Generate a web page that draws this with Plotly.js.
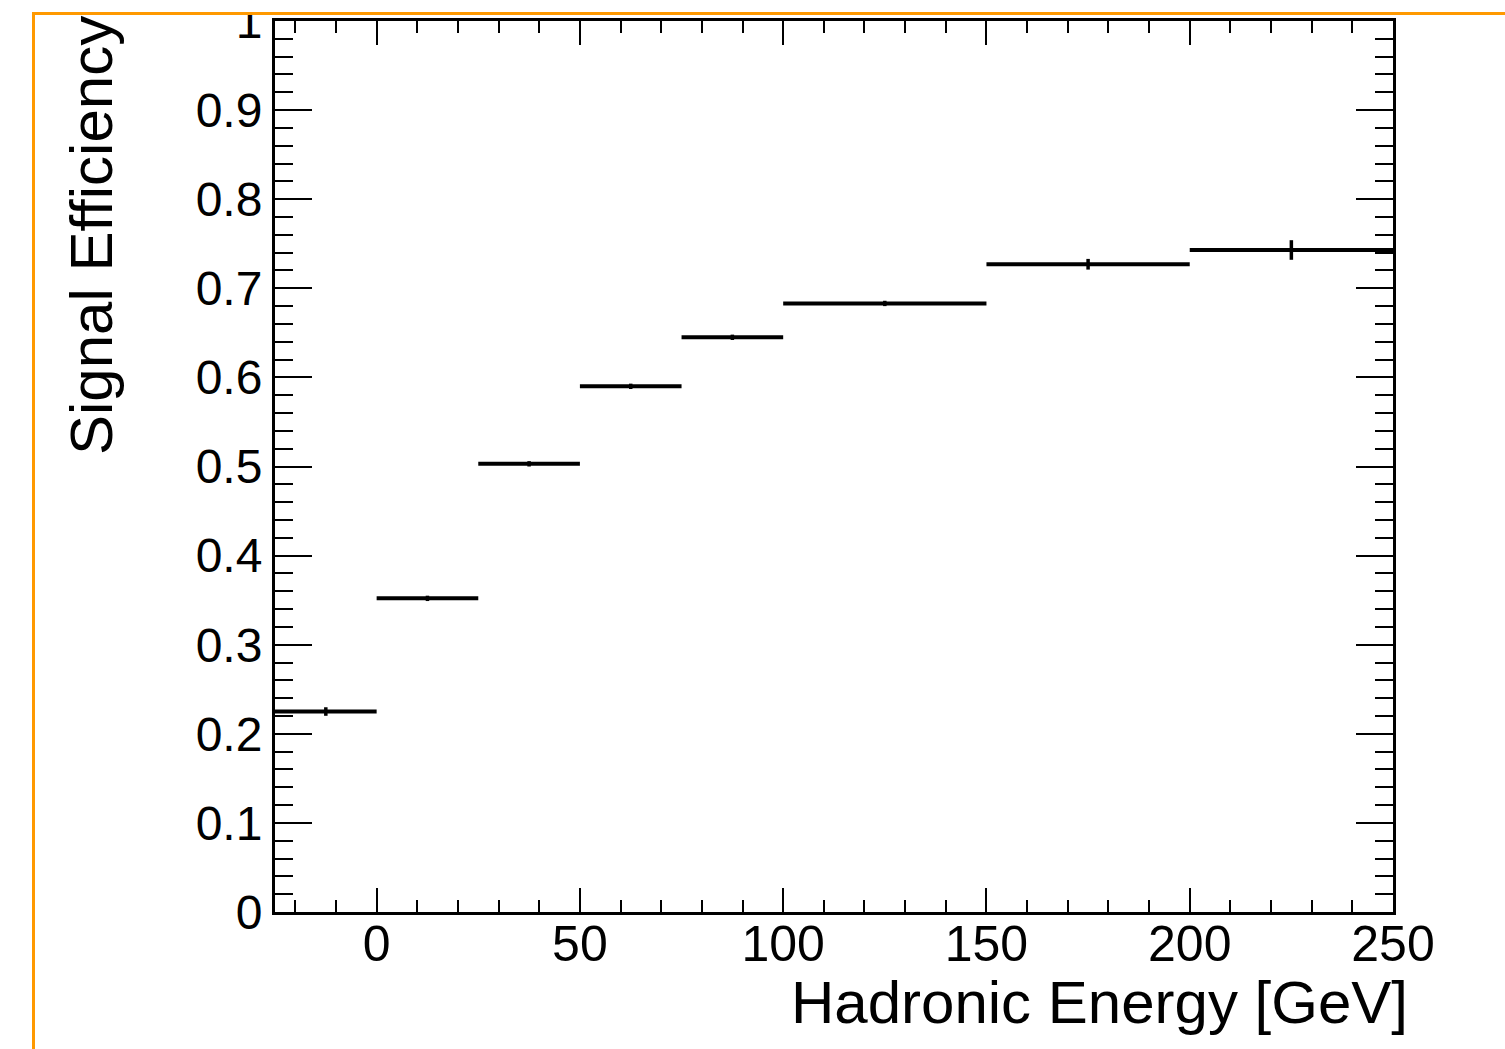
<!DOCTYPE html>
<html>
<head>
<meta charset="utf-8">
<script src="https://cdn.plot.ly/plotly-3.0.1.min.js"></script>
<style>
  html, body { margin: 0; padding: 0; background: #ffffff; }
  #frame {
    position: absolute; left: 32px; top: 12px; width: 1473px; height: 1037px;
    border-left: 3px solid #ff9900; border-top: 3px solid #ff9900;
    box-sizing: border-box; overflow: hidden; background: #ffffff;
  }
  #plot { position: absolute; left: -35px; top: -15px; width: 1505px; height: 1049px; }
</style>
</head>
<body>
<div id="frame"><div id="plot"></div></div>
<script>
// Bin edges (GeV)
const binLow  = [-25, 0, 25, 50, 75, 100, 150, 200];
const binHigh = [0, 25, 50, 75, 100, 150, 200, 250];
// Signal efficiency per bin and its statistical error
const efficiency = [0.225, 0.352, 0.503, 0.590, 0.645, 0.683, 0.727, 0.743];
const effError   = [0.0048, 0.003, 0.003, 0.003, 0.003, 0.003, 0.006, 0.011];
// Tick labels
const xTickVals = [0, 50, 100, 150, 200, 250];
const xTickText = ['0', '50', '100', '150', '200', '250'];
const yTickVals = [0, 0.1, 0.2, 0.3, 0.4, 0.5, 0.6, 0.7, 0.8, 0.9, 1];
const yTickText = ['0', '0.1', '0.2', '0.3', '0.4', '0.5', '0.6', '0.7', '0.8', '0.9', '1'];
const xTitle = 'Hadronic Energy [GeV]';
const yTitle = 'Signal Efficiency';

const centers = binLow.map((lo, i) => (lo + binHigh[i]) / 2);
const halfW = binLow.map((lo, i) => (binHigh[i] - lo) / 2);

const FONT = 'Liberation Sans, Arial, Helvetica, sans-serif';

const trace = {
  type: 'scatter',
  mode: 'markers',
  x: centers,
  y: efficiency,
  marker: { size: 1, color: '#000000' },
  error_x: { type: 'data', array: halfW, visible: true, color: '#000000', thickness: 4, width: 0 },
  error_y: { type: 'data', array: effError, visible: true, color: '#000000', thickness: 3.5, width: 0 },
  hoverinfo: 'x+y',
  showlegend: false
};

const layout = {
  width: 1505,
  height: 1049,
  margin: { l: 275, r: 112, t: 21, b: 137, pad: 0 },
  paper_bgcolor: '#ffffff',
  plot_bgcolor: '#ffffff',
  font: { family: FONT, color: '#000000' },
  showlegend: false,
  xaxis: {
    range: [-25, 250],
    tickmode: 'array', tickvals: xTickVals, ticktext: xTickText,
    ticks: 'inside', ticklen: 24, tickwidth: 2, tickcolor: '#000000',
    minor: { dtick: 10, tick0: 0, ticks: 'inside', ticklen: 12, tickwidth: 2, tickcolor: '#000000', showgrid: false },
    showline: true, linecolor: '#000000', linewidth: 3, mirror: 'ticks',
    showgrid: false, zeroline: false,
    tickfont: { family: FONT, size: 50, color: '#000000' },
    ticklabelstandoff: -14,
    ticklabeloverflow: 'allow'
  },
  yaxis: {
    range: [0, 1],
    tickmode: 'array', tickvals: yTickVals, ticktext: yTickText,
    ticks: 'inside', ticklen: 37, tickwidth: 2, tickcolor: '#000000',
    minor: { dtick: 0.02, tick0: 0, ticks: 'inside', ticklen: 18, tickwidth: 2, tickcolor: '#000000', showgrid: false },
    showline: true, linecolor: '#000000', linewidth: 3, mirror: 'ticks',
    showgrid: false, zeroline: false,
    tickfont: { family: FONT, size: 48, color: '#000000' },
    ticklabelstandoff: 0,
    ticklabeloverflow: 'allow'
  },
  annotations: [
    {
      text: xTitle, xref: 'paper', yref: 'paper',
      x: 1.0152, y: -0.1016, xanchor: 'right', yanchor: 'middle',
      showarrow: false, font: { family: FONT, size: 60, color: '#000000' }
    },
    {
      text: yTitle, xref: 'paper', yref: 'paper', textangle: -90,
      x: -0.1641, y: 1.0079, xanchor: 'center', yanchor: 'top',
      showarrow: false, font: { family: FONT, size: 60, color: '#000000' }
    }
  ]
};

Plotly.newPlot('plot', [trace], layout, { displayModeBar: false, staticPlot: true });
</script>
</body>
</html>
